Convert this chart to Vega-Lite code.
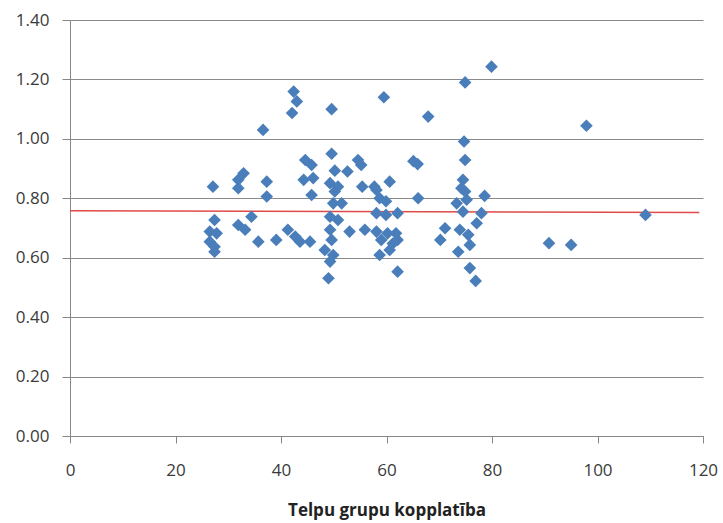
{
  "$schema": "https://vega.github.io/schema/vega-lite/v6.json",
  "width": 633,
  "height": 416,
  "autosize": "none",
  "padding": {"left": 70, "top": 20, "right": 20, "bottom": 87},
  "background": "white",
  "config": {
    "view": {"stroke": null},
    "font": "Open Sans",
    "axis": {
      "labelFont": "Open Sans",
      "labelFontSize": 17,
      "labelColor": "#3a3a3a",
      "domainColor": "#868686",
      "tickColor": "#868686",
      "gridColor": "#8a8a8a",
      "titleFont": "Open Sans"
    }
  },
  "datasets": {
    "pts": [
      {"x": 42.4, "y": 1.159}, {"x": 43.0, "y": 1.126}, {"x": 42.1, "y": 1.087}, {"x": 49.6, "y": 1.100},
      {"x": 36.6, "y": 1.030}, {"x": 44.6, "y": 0.929}, {"x": 45.8, "y": 0.912}, {"x": 49.6, "y": 0.950},
      {"x": 54.6, "y": 0.929}, {"x": 55.2, "y": 0.912}, {"x": 32.9, "y": 0.884}, {"x": 31.9, "y": 0.862},
      {"x": 31.9, "y": 0.834}, {"x": 27.1, "y": 0.839}, {"x": 37.3, "y": 0.856}, {"x": 37.3, "y": 0.806},
      {"x": 44.3, "y": 0.862}, {"x": 46.1, "y": 0.868}, {"x": 45.8, "y": 0.811}, {"x": 50.2, "y": 0.893},
      {"x": 52.6, "y": 0.890}, {"x": 49.3, "y": 0.851}, {"x": 50.8, "y": 0.839}, {"x": 55.4, "y": 0.839},
      {"x": 50.2, "y": 0.823}, {"x": 49.9, "y": 0.783}, {"x": 51.5, "y": 0.783}, {"x": 49.3, "y": 0.738},
      {"x": 50.8, "y": 0.727}, {"x": 27.4, "y": 0.727}, {"x": 34.4, "y": 0.738}, {"x": 31.9, "y": 0.710},
      {"x": 33.2, "y": 0.694}, {"x": 26.5, "y": 0.688}, {"x": 27.8, "y": 0.682}, {"x": 26.5, "y": 0.654},
      {"x": 27.4, "y": 0.637}, {"x": 27.4, "y": 0.620}, {"x": 35.7, "y": 0.654}, {"x": 39.1, "y": 0.660},
      {"x": 41.3, "y": 0.694}, {"x": 42.7, "y": 0.671}, {"x": 43.6, "y": 0.654}, {"x": 45.5, "y": 0.654},
      {"x": 49.3, "y": 0.694}, {"x": 49.6, "y": 0.660}, {"x": 53.0, "y": 0.688}, {"x": 55.9, "y": 0.694},
      {"x": 48.3, "y": 0.626}, {"x": 49.9, "y": 0.609}, {"x": 49.3, "y": 0.587}, {"x": 49.0, "y": 0.531},
      {"x": 79.9, "y": 1.243}, {"x": 74.9, "y": 1.190}, {"x": 59.5, "y": 1.140}, {"x": 67.9, "y": 1.075},
      {"x": 74.7, "y": 0.991}, {"x": 74.9, "y": 0.929}, {"x": 65.1, "y": 0.925}, {"x": 65.9, "y": 0.915},
      {"x": 60.6, "y": 0.856}, {"x": 57.7, "y": 0.839}, {"x": 58.1, "y": 0.828}, {"x": 74.5, "y": 0.862},
      {"x": 74.2, "y": 0.834}, {"x": 74.9, "y": 0.823}, {"x": 78.6, "y": 0.808}, {"x": 66.0, "y": 0.800},
      {"x": 58.7, "y": 0.800}, {"x": 59.9, "y": 0.790}, {"x": 73.3, "y": 0.783}, {"x": 75.2, "y": 0.795},
      {"x": 62.1, "y": 0.750}, {"x": 58.1, "y": 0.750}, {"x": 59.9, "y": 0.744}, {"x": 74.5, "y": 0.755},
      {"x": 78.0, "y": 0.750}, {"x": 77.1, "y": 0.716}, {"x": 58.1, "y": 0.688}, {"x": 60.2, "y": 0.682},
      {"x": 61.8, "y": 0.682}, {"x": 59.0, "y": 0.660}, {"x": 62.1, "y": 0.660}, {"x": 61.2, "y": 0.648},
      {"x": 71.1, "y": 0.699}, {"x": 70.2, "y": 0.660}, {"x": 73.9, "y": 0.694}, {"x": 75.5, "y": 0.677},
      {"x": 75.8, "y": 0.643}, {"x": 73.6, "y": 0.620}, {"x": 58.7, "y": 0.609}, {"x": 60.6, "y": 0.626},
      {"x": 62.1, "y": 0.553}, {"x": 75.8, "y": 0.565}, {"x": 76.9, "y": 0.522},
      {"x": 97.9, "y": 1.044}, {"x": 109.1, "y": 0.744}, {"x": 90.8, "y": 0.649}, {"x": 95.0, "y": 0.643}
    ],
    "trend": [
      {"x": 0, "y": 0.758},
      {"x": 119.3, "y": 0.752}
    ]
  },
  "layer": [
    {
      "data": {"name": "trend"},
      "mark": {"type": "line", "color": "#e04a48", "strokeWidth": 1.5},
      "encoding": {
        "x": {"field": "x", "type": "quantitative", "scale": {"domain": [0, 120], "nice": false, "zero": true},
          "axis": {"title": "Telpu grupu kopplatība", "titleFontSize": 17, "titleFontWeight": "bold", "titleColor": "#222222", "titlePadding": 24, "values": [0, 20, 40, 60, 80, 100, 120], "grid": false, "tickSize": 7, "labelPadding": 19, "labelFlush": false}},
        "y": {"field": "y", "type": "quantitative", "scale": {"domain": [0, 1.4], "nice": false},
          "axis": {"title": null, "values": [0, 0.2, 0.4, 0.6, 0.8, 1.0, 1.2, 1.4], "format": ".2f", "grid": true, "tickSize": 8, "labelPadding": 13}}
      }
    },
    {
      "data": {"name": "pts"},
      "mark": {"type": "point", "shape": "diamond", "filled": true, "size": 160, "color": "#4a7ebb", "opacity": 1},
      "encoding": {
        "x": {"field": "x", "type": "quantitative"},
        "y": {"field": "y", "type": "quantitative"}
      }
    }
  ]
}
